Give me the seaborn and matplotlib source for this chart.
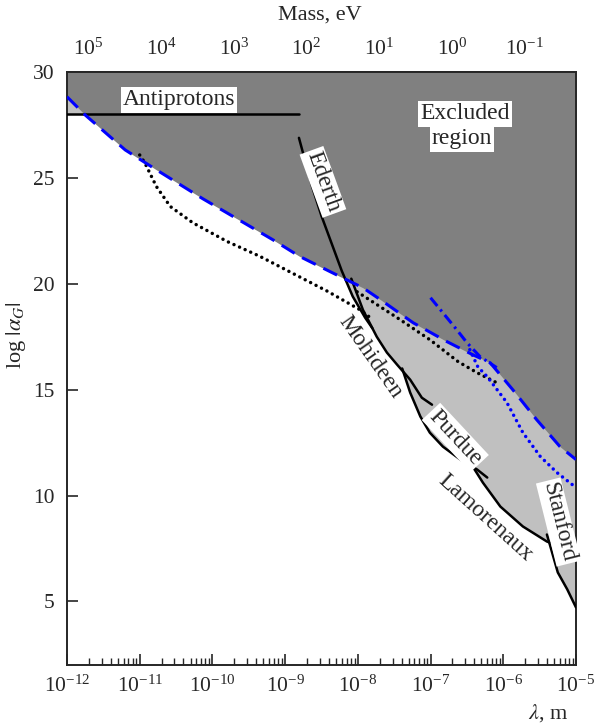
#plot: constraints on Yukawa-type corrections to Newtonian gravity

import numpy as np
import pandas as pd
import seaborn as sns
import matplotlib.pyplot as plt
from matplotlib.ticker import LogLocator, NullFormatter, FixedLocator

# --- data (x values are log10 of lambda in m) ---
antiprotons_x = [-12.0, -8.81]
antiprotons_y = [28.0, 28.0]

dashed_x = [-12.0, -11.75, -11.20, -10.77, -10.13, -9.17, -8.80, -8.38, -7.93,
            -7.69, -7.24, -6.77, -6.42, -6.18, -5.87, -5.54, -5.22, -5.0]
dashed_y = [28.83, 27.97, 26.32, 25.38, 24.01, 22.08, 21.29, 20.57, 19.81,
            19.25, 18.16, 17.26, 16.65, 16.27, 15.0, 13.58, 12.31, 11.70]

dotted_left_x = [-11.0, -10.93, -10.77, -10.58, -10.27, -9.80, -9.35, -8.90, -8.42, -7.97, -7.79]
dotted_left_y = [26.08, 25.71, 24.59, 23.65, 22.88, 22.0, 21.3, 20.5, 19.65, 18.77, 18.30]

dotted_right_x = [-8.01, -7.46, -7.01, -6.62, -6.36, -6.04]
dotted_right_y = [19.62, 18.40, 17.36, 16.32, 15.80, 15.24]

blue_dotted_x = [-6.46, -6.35, -6.22, -5.95, -5.73, -5.49, -5.26, -5.0]
blue_dotted_y = [16.89, 16.08, 15.61, 14.39, 12.97, 11.84, 11.08, 10.38]

blue_dashdot_x = [-7.0, -6.83, -6.64, -6.50, -6.32, -6.09]
blue_dashdot_y = [19.34, 18.63, 17.83, 17.22, 16.56, 16.04]

ederth_x = [-8.81, -8.74, -8.63, -8.50, -8.36, -8.22, -8.07, -7.90, -7.80]
ederth_y = [26.89, 26.0, 24.6, 23.2, 21.9, 20.6, 19.4, 18.4, 17.9]

mohideen_x = [-8.09, -7.93, -7.74, -7.60, -7.46, -7.28, -7.12, -6.98]
mohideen_y = [20.24, 18.77, 17.5, 16.75, 16.18, 15.47, 14.62, 14.29]

purdue_x = [-7.39, -7.28, -7.14, -7.01, -6.83, -6.59, -6.36, -6.22]
purdue_y = [16.0, 14.86, 13.73, 12.97, 12.31, 11.70, 11.23, 10.85]

lamoreaux_x = [-6.42, -6.28, -6.04, -5.73, -5.40, -5.36]
lamoreaux_y = [11.37, 10.61, 9.48, 8.54, 7.83, 7.78]

stanford_x = [-5.40, -5.36, -5.25, -5.12, -5.0]
stanford_y = [8.16, 7.69, 6.37, 5.57, 4.72]

# label text, position (log10 lambda, log alpha), rotation, boxed
labels = [
    ("Antiprotons", -10.46, 28.68, 0, True),
    ("Excluded", -6.53, 28.02, 0, True),
    ("region", -6.57, 26.84, 0, True),
    ("Ederth", -8.48, 24.81, -70, True),
    ("Mohideen", -7.83, 16.56, -55, False),
    ("Purdue", -6.66, 12.74, -47, True),
    ("Lamorenaux", -6.24, 8.96, -42, False),
    ("Stanford", -5.24, 8.75, -76, True),
]

bottom_ticks = [1e-12, 1e-11, 1e-10, 1e-9, 1e-8, 1e-7, 1e-6, 1e-5]
top_ticks = [1e5, 1e4, 1e3, 1e2, 1e1, 1e0, 1e-1]

HC = 1.97e-7  # hbar*c in eV*m

sns.set_style("ticks")
plt.rcParams['font.family'] = ['Liberation Serif', 'DejaVu Serif']
plt.rcParams['mathtext.fontset'] = 'stix'
plt.rcParams['font.size'] = 15

fig = plt.figure(figsize=(5.96, 7.27), dpi=100)
ax = fig.add_axes([0.1124, 0.0853, 0.854, 0.8157])


def curve_df(lx, ly):
    return pd.DataFrame({'lam': 10.0 ** np.array(lx), 'alpha': np.array(ly)})


solid_curves = [(antiprotons_x, antiprotons_y), (ederth_x, ederth_y), (mohideen_x, mohideen_y),
                (purdue_x, purdue_y), (lamoreaux_x, lamoreaux_y), (stanford_x, stanford_y)]

# shaded regions
grid = np.linspace(-12, -5, 1401)
env = np.full_like(grid, np.inf)
for cx, cy in solid_curves:
    m = (grid >= min(cx)) & (grid <= max(cx))
    env[m] = np.minimum(env[m], np.interp(grid[m], cx, cy))
dash_i = np.interp(grid, dashed_x, dashed_y)
ax.fill_between(10 ** grid, env, 30, color='#c0c0c0', lw=0, zorder=1)
ax.fill_between(10 ** grid, dash_i, 30, color='#808080', lw=0, zorder=1)

# black solid experimental limits
for cx, cy in solid_curves:
    sns.lineplot(data=curve_df(cx, cy), x='lam', y='alpha', sort=False, estimator=None,
                 color='black', lw=1.8, ax=ax, zorder=3)

dots = (0, (0.01, 1.75))

# black dotted
for cx, cy in [(dotted_left_x, dotted_left_y), (dotted_right_x, dotted_right_y)]:
    sns.lineplot(data=curve_df(cx, cy), x='lam', y='alpha', sort=False, estimator=None,
                 color='black', lw=2.5, linestyle=dots, dash_capstyle='round',
                 ax=ax, zorder=3)

# blue lines
sns.lineplot(data=curve_df(dashed_x, dashed_y), x='lam', y='alpha', sort=False, estimator=None,
             color='#0000ff', lw=2.2, linestyle=(0, (5, 2.8)), ax=ax, zorder=4)
sns.lineplot(data=curve_df(blue_dotted_x, blue_dotted_y), x='lam', y='alpha', sort=False,
             estimator=None, color='#0000ff', lw=2.5, linestyle=dots,
             dash_capstyle='round', ax=ax, zorder=4)
sns.lineplot(data=curve_df(blue_dashdot_x, blue_dashdot_y), x='lam', y='alpha', sort=False,
             estimator=None, color='#0000ff', lw=2.2, linestyle=(0, (3.5, 1.5, 0.8, 1.5)),
             ax=ax, zorder=4)

for txt, lx, ly, rot, boxed in labels:
    kw = dict(facecolor='white', edgecolor='none', pad=1.5) if boxed else None
    ax.text(10 ** lx, ly, txt, rotation=rot, ha='center', va='center',
            fontsize=17, bbox=kw, zorder=6)

ax.set_xscale('log')
ax.set_xlim(1e-12, 1e-5)
ax.set_ylim(2, 30)
ax.xaxis.set_major_locator(FixedLocator(bottom_ticks))
ax.xaxis.set_minor_locator(LogLocator(base=10, subs=np.arange(2, 10), numticks=20))
ax.xaxis.set_minor_formatter(NullFormatter())
ax.yaxis.set_major_locator(FixedLocator([5, 10, 15, 20, 25, 30]))
ax.tick_params(axis='x', which='major', direction='in', length=8, width=1.2, pad=8, labelsize=15.5)
ax.tick_params(axis='x', which='minor', direction='in', length=5, width=1.0)
ax.tick_params(axis='y', which='major', direction='in', length=8, width=1.2, pad=9, labelsize=15.5)
for s in ax.spines.values():
    s.set_linewidth(1.4)


def to_mass(lam):
    lam = np.asarray(lam, dtype=float)
    return HC / np.where(lam <= 0, 1e-300, lam)


def to_lam(mass):
    mass = np.asarray(mass, dtype=float)
    return HC / np.where(mass <= 0, 1e-300, mass)


secax = ax.secondary_xaxis('top', functions=(to_mass, to_lam))
secax.xaxis.set_major_locator(FixedLocator(top_ticks))
secax.xaxis.set_minor_locator(LogLocator(base=10, subs=np.arange(2, 10), numticks=20))
secax.xaxis.set_minor_formatter(NullFormatter())
secax.tick_params(axis='x', which='major', direction='in', length=8, width=1.2, pad=9, labelsize=15.5)
secax.tick_params(axis='x', which='minor', direction='in', length=5, width=1.0)
secax.spines['top'].set_linewidth(1.4)

ax.set_xlabel(r'$\lambda$, m', fontsize=16)
ax.xaxis.set_label_coords(0.945, -0.062)
ax.set_ylabel(r'log $|\alpha_G|$', fontsize=16)
ax.yaxis.set_label_coords(-0.077, 0.556)
ax.text(0.497, 1.096, 'Mass, eV', transform=ax.transAxes, ha='center', va='center', fontsize=16)

fig.savefig('out.png', dpi=100)
